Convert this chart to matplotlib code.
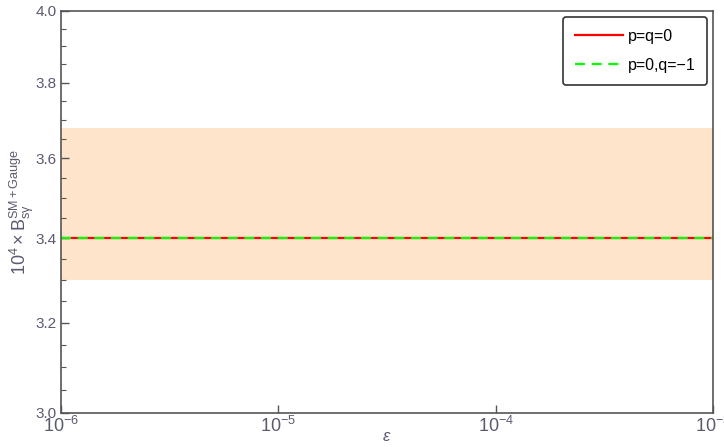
import matplotlib.pyplot as plt
import numpy as np

# branching ratio vs epsilon, two parameter choices, with the experimental band
eps = [1e-6, 1e-5, 1e-4, 1e-3]
br_pq0 = [3.40, 3.40, 3.40, 3.40]
br_p0qm1 = [3.40, 3.40, 3.40, 3.40]
band_low = 3.30
band_high = 3.68

gray = "#555555"
label_col = "#5a5a70"

plt.rcParams["font.family"] = ["Liberation Sans", "DejaVu Sans"]
plt.rcParams["mathtext.fontset"] = "custom"
plt.rcParams["mathtext.rm"] = "Liberation Sans"
plt.rcParams["mathtext.it"] = "Liberation Sans:italic"

fig = plt.figure(figsize=(7.24, 4.47), dpi=100)
ax = fig.add_axes([0.0843, 0.0761, 0.9005, 0.8993])

ax.fill_between(eps, band_low, band_high, color="#ffe4cc", lw=0)
ax.plot(eps, br_pq0, color="red", lw=1.6, label="p=q=0")
ax.plot(eps, br_p0qm1, color="#00ff00", lw=1.6, ls=(0, (4.5, 3)), label="p=0,q=\u22121")

ax.set_xscale("log")
ax.set_yscale("log")
ax.set_xlim(1e-6, 1e-3)
ax.set_ylim(3.0, 4.0)

yt = np.arange(3.0, 4.01, 0.2)
ax.set_yticks(yt)
ax.set_yticklabels(["%.1f" % v for v in yt])
ax.set_yticks(np.arange(3.05, 4.0, 0.05), minor=True)
ax.yaxis.set_minor_formatter(plt.NullFormatter())
ax.set_xticks(eps)
ax.set_xticklabels([r"$\mathrm{10^{-6}}$", r"$\mathrm{10^{-5}}$",
                    r"$\mathrm{10^{-4}}$", r"$\mathrm{10^{-3}}$"])
ax.xaxis.set_minor_locator(plt.NullLocator())

ax.tick_params(axis="both", which="major", direction="in", length=6, width=1,
               color=gray, labelcolor=label_col, labelsize=11, pad=3)
ax.tick_params(axis="x", which="major", labelsize=13, pad=2)
ax.tick_params(axis="y", which="minor", direction="in", length=3.5, width=0.8, color=gray)
for s in ax.spines.values():
    s.set_color(gray)
    s.set_linewidth(1.2)

ax.set_xlabel(r"$\epsilon$", color=label_col, fontsize=12, labelpad=-5)
ax.set_ylabel(r"$\mathrm{10^4\times B_{s\gamma}^{SM+Gauge}}$", color=label_col,
              fontsize=13, labelpad=0)

leg = ax.legend(loc="upper right", fontsize=11.5, frameon=True, fancybox=True,
                handlelength=3.0, handletextpad=0.3, borderpad=0.75,
                labelspacing=0.9, borderaxespad=0.35)
leg.get_frame().set_edgecolor("#333333")
leg.get_frame().set_linewidth(1.2)
leg.get_frame().set_alpha(1)

fig.savefig("out.png", dpi=100)
